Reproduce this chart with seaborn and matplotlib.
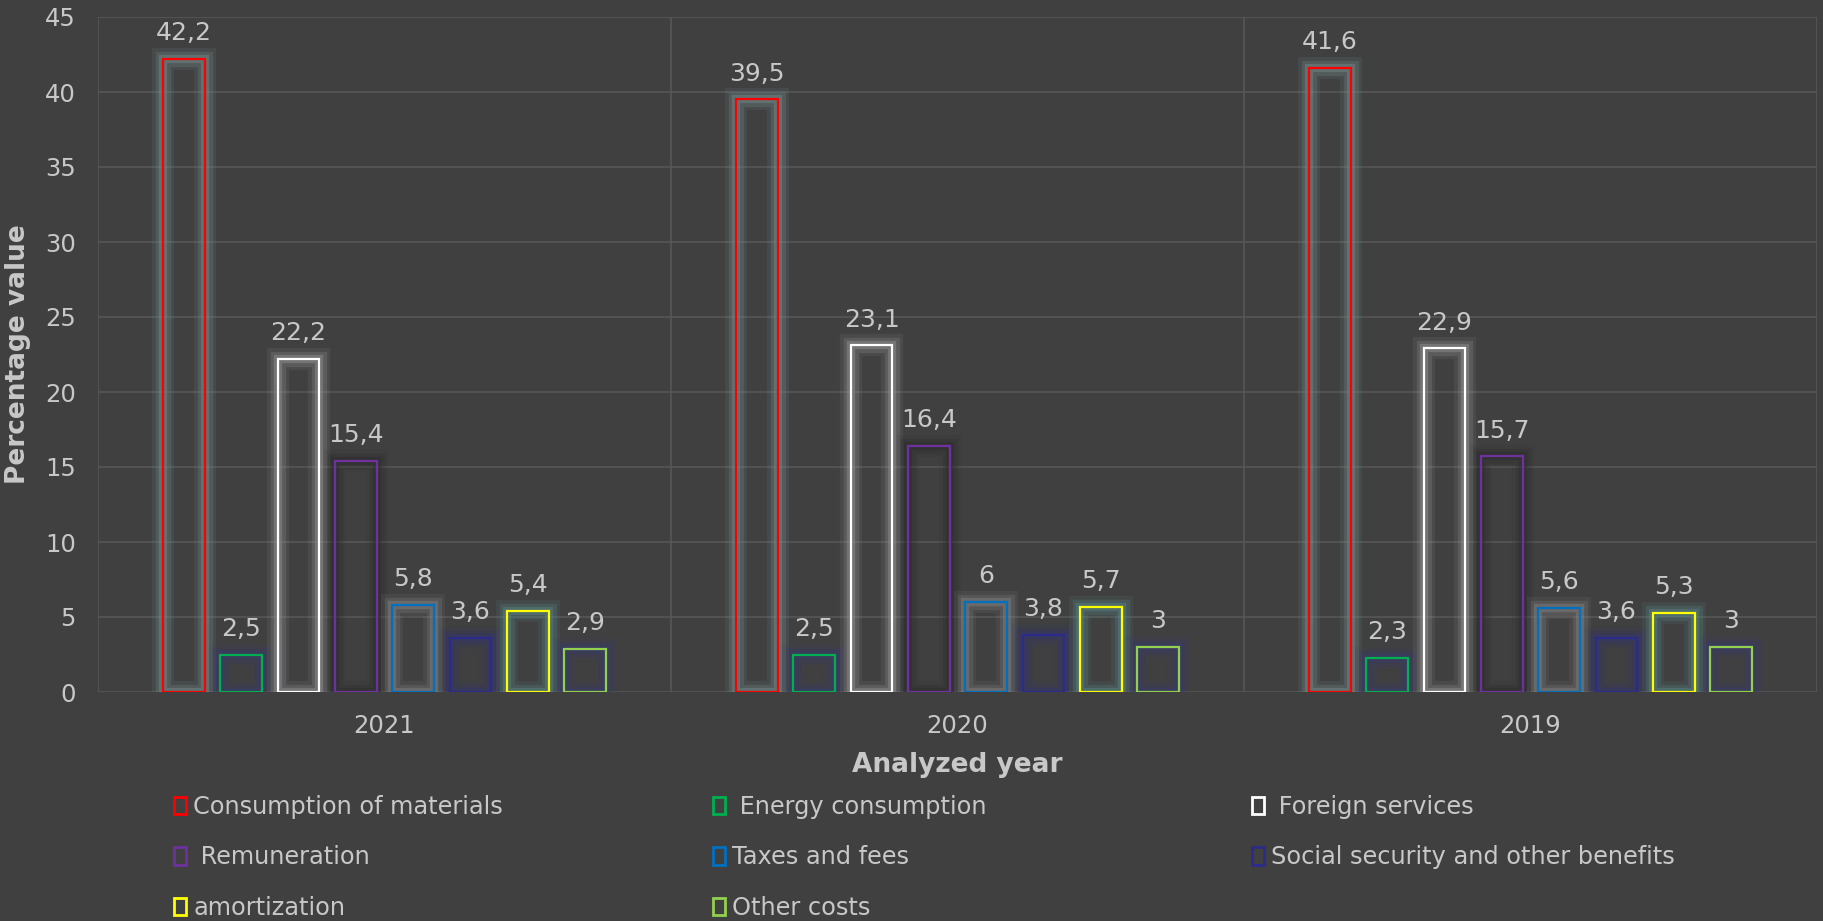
import numpy as np
import pandas as pd
import matplotlib
matplotlib.use("Agg")
import matplotlib.pyplot as plt
import matplotlib.patheffects as pe
from matplotlib.patches import Patch
import seaborn as sns

# ---- data ----
years = ["2021", "2020", "2019"]
categories = ["Consumption of materials", " Energy consumption", " Foreign services",
              " Remuneration", "Taxes and fees", "Social security and other benefits",
              "amortization", "Other costs"]
consumption_of_materials = [42.2, 39.5, 41.6]
energy_consumption = [2.5, 2.5, 2.3]
foreign_services = [22.2, 23.1, 22.9]
remuneration = [15.4, 16.4, 15.7]
taxes_and_fees = [5.8, 6.0, 5.6]
social_security = [3.6, 3.8, 3.6]
amortization = [5.4, 5.7, 5.3]
other_costs = [2.9, 3.0, 3.0]
series_values = [consumption_of_materials, energy_consumption, foreign_services,
                 remuneration, taxes_and_fees, social_security, amortization, other_costs]

colors = ["#FF0000", "#00B050", "#FFFFFF", "#7030A0", "#0070C0", "#2B2B8C", "#FFFF00", "#92D050"]
glows = ["#7A9595", "#3A3A70", "#9A9A9A", "#2A2A2A", "#8A8A8A", "#34346E", "#5A8C8C", "#3A3A70"]

BG = "#404040"
TXT = "#C8C8C8"
GRID = "#585858"

rows = []
for cat, vals in zip(categories, series_values):
    for y, v in zip(years, vals):
        rows.append({"Year": y, "Category": cat, "Value": v})
df = pd.DataFrame(rows)

sns.set_theme(style="dark")
plt.rcParams["font.family"] = ["DejaVu Sans"]

fig = plt.figure(figsize=(18.23, 9.21), dpi=100, facecolor=BG)
ax = fig.add_axes([98 / 1823, 1 - 692 / 921, (1817 - 98) / 1823, (692 - 17) / 921])
ax.set_facecolor(BG)

sns.barplot(data=df, x="Year", y="Value", hue="Category", order=years,
            hue_order=categories, palette=colors, fill=False, gap=0.27,
            linewidth=1.6, legend=False, ax=ax, errorbar=None)

for cont, c, g in zip(ax.containers, colors, glows):
    for bar in cont:
        bar.set_edgecolor(c)
        bar.set_facecolor("none")
        bar.set_path_effects([
            pe.Stroke(linewidth=16, foreground=g, alpha=0.12),
            pe.Stroke(linewidth=11, foreground=g, alpha=0.22),
            pe.Stroke(linewidth=6, foreground=g, alpha=0.4),
            pe.Normal(),
        ])
    labels = [f"{v:g}".replace(".", ",") for v in cont.datavalues]
    ax.bar_label(cont, labels=labels, padding=10, color=TXT, fontsize=18)

ax.set_xlim(-0.5, 2.5)
ax.set_ylim(0, 45)
ax.set_yticks(np.arange(0, 46, 5))
ax.set_xticks([-0.5, 0.5, 1.5, 2.5], minor=True)
ax.grid(True, axis="y", which="major", color=GRID, linewidth=1.1)
ax.grid(True, axis="x", which="minor", color=GRID, linewidth=1.1)
ax.grid(False, axis="x", which="major")
ax.set_axisbelow(True)
for s in ax.spines.values():
    s.set_visible(False)

ax.tick_params(axis="both", which="both", length=0, colors=TXT, labelsize=17.5)
ax.tick_params(axis="y", pad=16)
ax.tick_params(axis="x", pad=16)
ax.set_xlabel("Analyzed year", fontsize=19, fontweight="bold", color=TXT, labelpad=10)
ax.set_ylabel("Percentage value", fontsize=19, fontweight="bold", color=TXT, labelpad=10)

handles = [Patch(facecolor="none", edgecolor=c, linewidth=2) for c in colors]
col_x = [174 / 1823, 713 / 1823, 1252 / 1823]
col_items = [[0, 3, 6], [1, 4, 7], [2, 5]]
for x0, idx in zip(col_x, col_items):
    leg = fig.legend([handles[i] for i in idx], [categories[i] for i in idx],
                     loc="upper left", bbox_to_anchor=(x0, 1 - 795 / 921),
                     frameon=False, fontsize=17.3, labelcolor=TXT,
                     handlelength=0.5, handleheight=0.75, handletextpad=0.3,
                     labelspacing=1.1, borderpad=0, borderaxespad=0)

fig.savefig("out.png", dpi=100, facecolor=BG)
